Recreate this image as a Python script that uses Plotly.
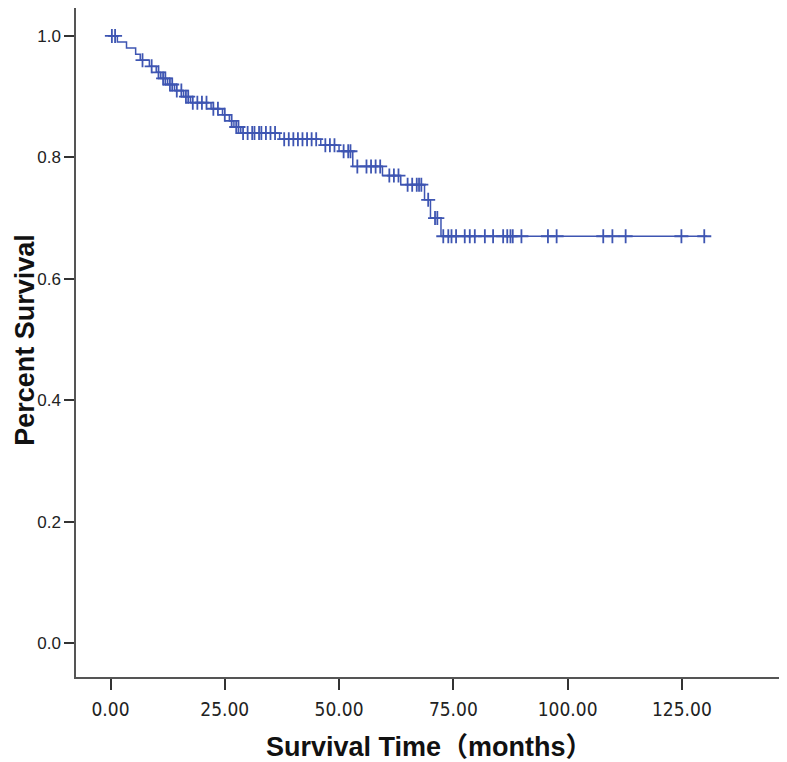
import numpy as np
import plotly.graph_objects as go

# Kaplan-Meier step data (event times in months, survival after event)
event_times = [1.5, 3.5, 5.5, 6.5, 8.5, 10, 11, 12.5, 14, 16, 17.5, 22, 24.5, 26, 27, 28.5,
               37, 46, 50, 53, 59.5, 63.5, 68.7, 70, 72.3]
survival = [0.99, 0.98, 0.97, 0.96, 0.95, 0.94, 0.93, 0.92, 0.91, 0.90, 0.89, 0.88, 0.87, 0.86,
            0.85, 0.84, 0.83, 0.82, 0.81, 0.785, 0.77, 0.755, 0.73, 0.70, 0.67]
end_time = 130.5

# Censored observations (months)
censor_times = [0.3, 1.0, 7.0, 9.0, 10.5, 11.5, 12, 13, 13.5, 14.5, 15.5, 16.5, 17, 18, 19, 20, 21,
                22.5, 23.5, 25, 26.5, 27.5, 28, 29, 30, 31, 31.5, 32.5, 33, 34, 35, 36,
                38, 39, 40, 41, 42, 43, 44, 45, 47, 48, 49, 51, 52, 52.5,
                54, 56, 57, 58, 59, 61, 62, 63, 65, 66, 67, 67.5, 68, 69.5, 71, 71.5,
                72.8, 73.9, 74.6, 75.6, 77.5, 78.6, 79.7, 81.9, 83.7, 85.9, 86.8, 87.5, 88.0,
                89.9, 95.7, 97.6, 107.8, 109.8, 112.7, 124.9, 129.9]

x_ticks = [0, 25, 50, 75, 100, 125]
x_tick_labels = ["0.00", "25.00", "50.00", "75.00", "100.00", "125.00"]
y_ticks = [0.0, 0.2, 0.4, 0.6, 0.8, 1.0]
y_tick_labels = ["0.0", "0.2", "0.4", "0.6", "0.8", "1.0"]

BLUE = "#3E55B2"

step_x = [0] + event_times + [end_time]
step_y = [1.0] + survival + [survival[-1]]

ev = np.array(event_times)
sv = np.array([1.0] + survival)
idx = np.searchsorted(ev, np.array(censor_times), side="right")
censor_y = sv[idx]

fig = go.Figure()
fig.add_trace(go.Scatter(x=step_x, y=step_y, mode="lines", line=dict(color=BLUE, width=1.5, shape="hv"),
                         showlegend=False, hoverinfo="skip"))
fig.add_trace(go.Scatter(x=censor_times, y=censor_y, mode="markers",
                         marker=dict(symbol="cross-thin", size=10, color=BLUE,
                                     line=dict(color=BLUE, width=1.8)),
                         showlegend=False))

narrow = "Liberation Sans Narrow, DejaVu Sans Condensed, Arial Narrow, Liberation Sans, sans-serif"
regular = "Liberation Sans, Arial, sans-serif"
title_font = "Liberation Sans, Arial, Noto Sans CJK SC, sans-serif"

fig.update_layout(
    width=779, height=754,
    margin=dict(l=68, r=0, t=0, b=85),
    paper_bgcolor="white", plot_bgcolor="white",
    font=dict(family=regular, color="#222222"),
    xaxis=dict(range=[-7.55, 148], tickvals=x_ticks, ticktext=x_tick_labels,
               showgrid=False, zeroline=False, showline=True, linecolor="#555555", linewidth=1.5,
               ticks="outside", ticklen=11, tickwidth=1.5, tickcolor="#333333",
               ticklabelstandoff=3,
               tickfont=dict(size=19, color="#222222", family=narrow)),
    yaxis=dict(range=[-0.056, 1.046], tickvals=y_ticks, ticktext=y_tick_labels,
               showgrid=False, zeroline=False, showline=True, linecolor="#555555", linewidth=1.5,
               ticks="outside", ticklen=10, tickwidth=1.5, tickcolor="#333333",
               tickfont=dict(size=17, color="#222222", family=regular)),
    annotations=[
        dict(text="<b>Survival Time（months）</b>", xref="paper", yref="paper",
             x=0.497, y=-0.1046, xanchor="center", yanchor="middle", showarrow=False,
             font=dict(size=27, color="#111111", family=title_font)),
        dict(text="<b>Percent Survival</b>", xref="paper", yref="paper",
             x=-0.0942, y=0.504, xanchor="left", yanchor="middle", showarrow=False,
             textangle=-90, borderpad=0,
             font=dict(size=27, color="#111111", family=title_font)),
    ],
)

fig.write_html("out.html")
